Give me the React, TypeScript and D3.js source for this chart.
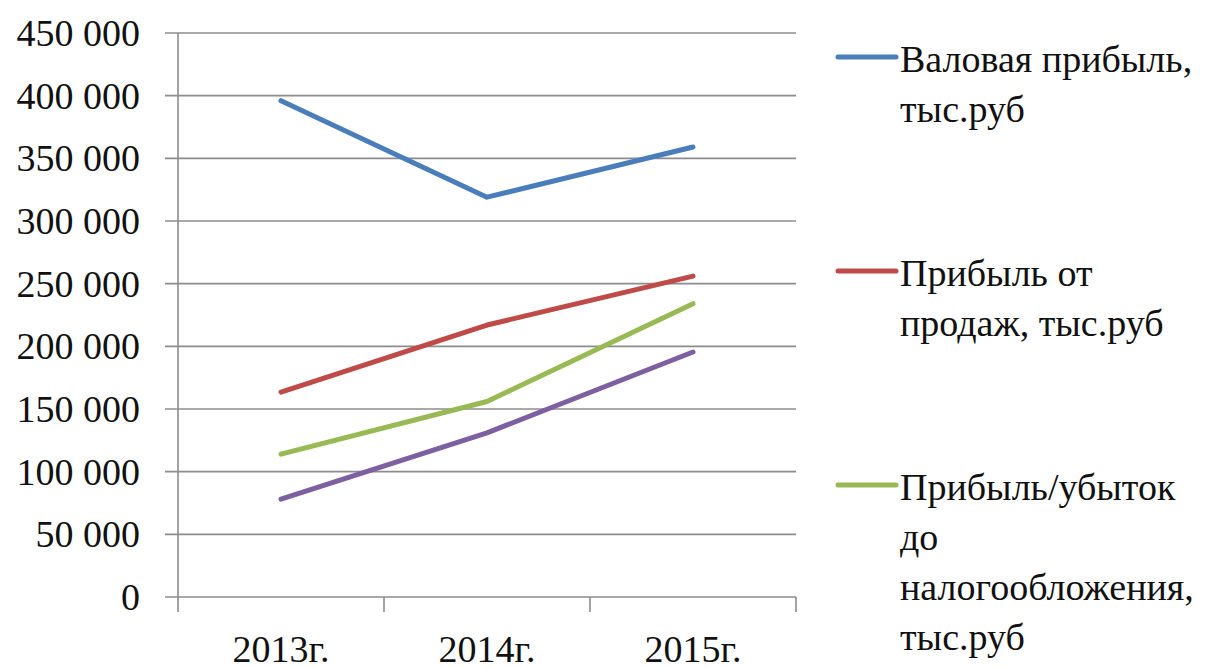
import React from "react";
import * as d3 from "d3";

const years = ["2013г.", "2014г.", "2015г."];
const grossProfit = [396000, 319000, 359000];
const salesProfit = [163500, 217000, 256000];
const preTaxProfit = [114000, 156000, 234000];
const netProfit = [78000, 131000, 195500];
const yTicks = [0, 50000, 100000, 150000, 200000, 250000, 300000, 350000, 400000, 450000];

const seriesNames = [
    ["Валовая прибыль,", "тыс.руб"],
    ["Прибыль от", "продаж, тыс.руб"],
    ["Прибыль/убыток", "до", "налогообложения,", "тыс.руб"],
];
const colors = ["#4a7ebb", "#be4b48", "#98b954", "#7d60a0"];

const W = 1224;
const H = 669;
const left = 178;
const right = 796;
const top = 33;
const bottom = 597;
const font = "'Liberation Serif', 'DejaVu Serif', serif";

const App = () => {
    const x = d3.scaleBand().domain(years).range([left, right]);
    const y = d3.scaleLinear().domain([0, 450000]).range([bottom, top]);
    const fmt = (v: number) => d3.format(",")(v).replace(/,/g, " ");

    const line = d3.line<number>()
        .x((d, i) => x(years[i])! + x.bandwidth() / 2)
        .y(d => y(d));

    const all = [grossProfit, salesProfit, preTaxProfit, netProfit];
    const legendY = [57, 271, 485];
    const gridColor = "#8c8c8c";

    return (
        <svg width={W} height={H} style={{position: "absolute", left: 0, top: 0, background: "#fff", fontFamily: font}}>
            {/* gridlines */}
            {yTicks.map(t => (
                <line key={t} x1={165} x2={right} y1={y(t)} y2={y(t)} stroke={gridColor} strokeWidth={1.6}/>
            ))}
            <line x1={left} x2={left} y1={top} y2={bottom + 15} stroke={gridColor} strokeWidth={1.6}/>
            {years.map((c, i) => (
                <line key={c} x1={x(c)! + x.bandwidth()} x2={x(c)! + x.bandwidth()} y1={bottom} y2={bottom + 15}
                      stroke={gridColor} strokeWidth={1.6}/>
            ))}
            {yTicks.map(t => (
                <text key={t} x={140} y={y(t)} dy="0.34em" textAnchor="end" fontSize={38} fill="#111">{fmt(t)}</text>
            ))}
            {years.map(c => (
                <text key={c} x={x(c)! + x.bandwidth() / 2} y={662} textAnchor="middle" fontSize={38}
                      fill="#111">{c}</text>
            ))}
            {all.map((s, i) => (
                <path key={i} d={line(s)!} fill="none" stroke={colors[i]} strokeWidth={5} strokeLinecap="round"
                      strokeLinejoin="round"/>
            ))}
            {/* legend */}
            {seriesNames.map((lines, i) => (
                <g key={i}>
                    <line x1={838} x2={896} y1={legendY[i]} y2={legendY[i]} stroke={colors[i]} strokeWidth={5}
                          strokeLinecap="round"/>
                    <text x={900} y={legendY[i] + 15} fontSize={38} fill="#111">
                        {lines.map((l, j) => (
                            <tspan key={j} x={900} dy={j === 0 ? 0 : 50}>{l}</tspan>
                        ))}
                    </text>
                </g>
            ))}
        </svg>
    );
};

export default App;
